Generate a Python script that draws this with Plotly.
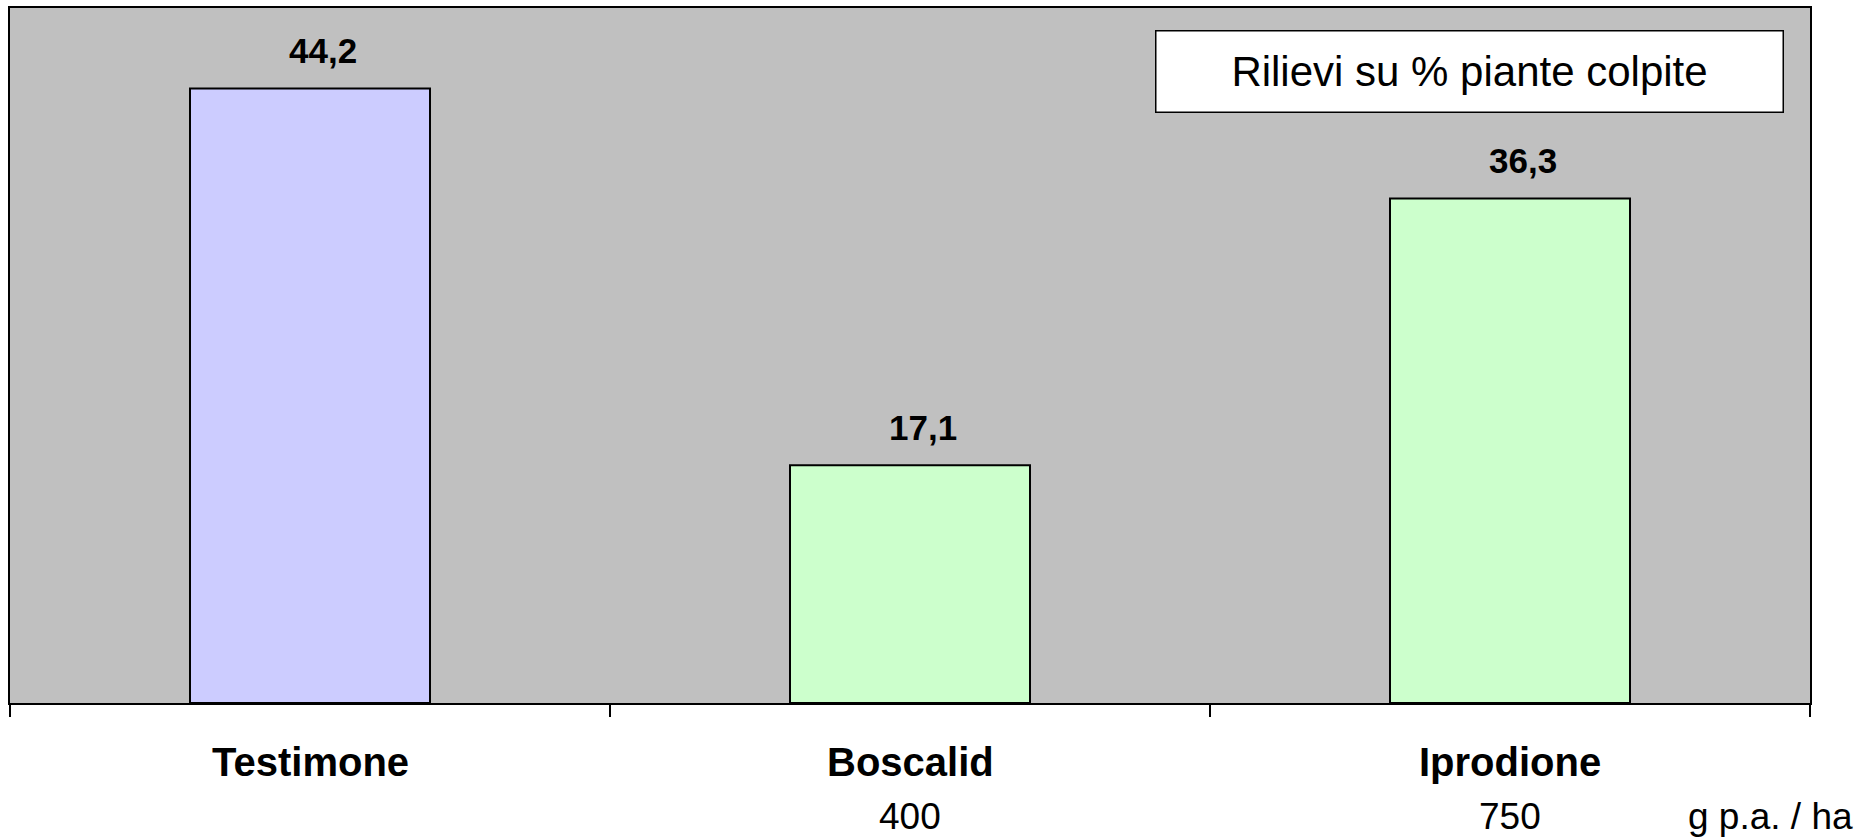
import plotly.graph_objects as go

categories = ["Testimone", "Boscalid", "Iprodione"]
values = [44.2, 17.1, 36.3]
value_labels = ["44,2", "17,1", "36,3"]
doses = ["", "400", "750"]
dose_unit = "g p.a. / ha"
bar_colors = ["#CCCCFF", "#CCFFCC", "#CCFFCC"]
legend_text = "Rilievi su % piante colpite"

FONT = "Liberation Sans, Arial, sans-serif"

fig = go.Figure()
fig.add_trace(go.Bar(
    x=categories, y=values, width=0.4,
    marker=dict(color=bar_colors, line=dict(color="black", width=2)),
    showlegend=False, hoverinfo="skip",
))

annotations = []
for c, v, t in zip(categories, values, value_labels):
    annotations.append(dict(x=c, y=v, text="<b>%s</b>" % t, showarrow=False,
                            xref="x", yref="y", yanchor="middle", yshift=38, xshift=13,
                            font=dict(family=FONT, size=35, color="black")))
for c, d in zip(categories, doses):
    annotations.append(dict(x=c, y=0, text="<b>%s</b>" % c, showarrow=False,
                            xref="x", yref="paper", yanchor="middle", yshift=-59,
                            font=dict(family=FONT, size=40, color="black")))
    if d:
        annotations.append(dict(x=c, y=0, text=d, showarrow=False,
                                xref="x", yref="paper", yanchor="middle", yshift=-113,
                                font=dict(family=FONT, size=37, color="black")))
annotations.append(dict(x=0.978, y=0, text=dose_unit, showarrow=False,
                        xref="paper", yref="paper", xanchor="center", yanchor="middle",
                        yshift=-113,
                        font=dict(family=FONT, size=37, color="black")))
annotations.append(dict(x=0.811, y=0.908, text=legend_text, showarrow=False,
                        xref="paper", yref="paper", xanchor="center", yanchor="middle",
                        width=622, height=76, borderpad=2, borderwidth=1.5,
                        bordercolor="black", bgcolor="white",
                        font=dict(family=FONT, size=42, color="black")))

fig.update_layout(
    width=1874, height=837,
    margin=dict(l=10, r=64, t=6, b=134),
    paper_bgcolor="white", plot_bgcolor="#C0C0C0",
    bargap=0.6,
    annotations=annotations,
    xaxis=dict(type="category", tickson="boundaries", ticks="outside", ticklen=12,
               tickwidth=2, tickcolor="black", showticklabels=False,
               showline=True, linecolor="black", linewidth=2, mirror=True,
               showgrid=False, zeroline=False, fixedrange=True),
    yaxis=dict(range=[0, 50], showticklabels=False, ticks="",
               showline=True, linecolor="black", linewidth=2, mirror=True,
               showgrid=False, zeroline=False, fixedrange=True),
)

fig.write_html("out.html", config={"displayModeBar": False},
               post_script="document.body.style.margin='0';document.body.style.overflow='hidden';")
